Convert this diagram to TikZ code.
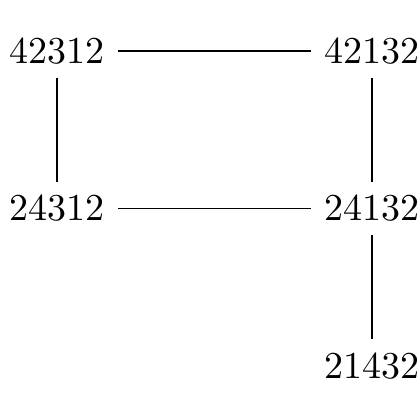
\documentclass[tikz,border=0pt]{standalone}
\usepackage{tikz}

\begin{document}
\begin{tikzpicture}[
			x=41.45pt, y=41.45pt,
			perm/.style={inner sep=3.33pt},
			cover/.style={draw, thin}
		]
		\useasboundingbox (-15pt,13.4pt) rectangle ([xshift=12.6pt,yshift=-14.2pt]2,-2);
		\node[perm] (p42312) at (0,0) {42312};
		\node[perm] (p42132) at (2,0) {42132};
		\node[perm] (p24312) at (0,-1) {24312};
		\node[perm] (p24132) at (2,-1) {24132};
		\node[perm] (p21432) at (2,-2) {21432};
		
		\draw[cover] (p42312) -- (p42132);
		\draw[cover] (p42312) -- (p24312);
		\draw[cover] (p42132) -- (p24132);
		\draw[cover] (p24312) -- (p24132);
		\draw[cover] (p24132) -- (p21432);
		\end{tikzpicture}
\end{document}
